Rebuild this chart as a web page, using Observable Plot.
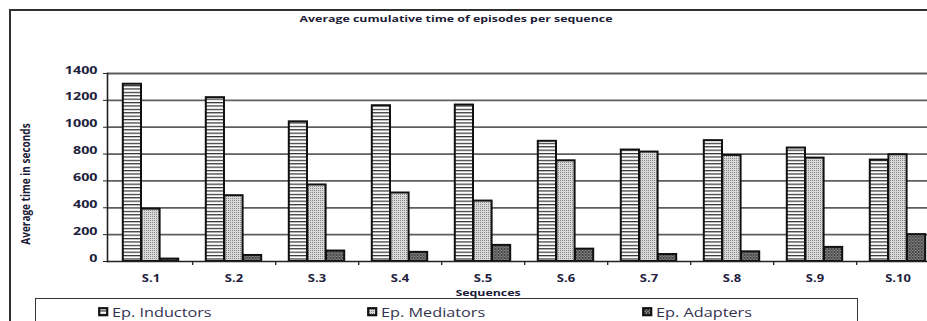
<!DOCTYPE html>
<html><head><meta charset="utf-8">
<script src="https://cdn.jsdelivr.net/npm/d3@7"></script>
<script src="https://cdn.jsdelivr.net/npm/@observablehq/plot@0.6"></script>
<style>
body{margin:0;background:#fff;}
#wrap{position:relative;width:927px;height:321px;overflow:hidden;font-family:"Open Sans",sans-serif;background:#fff;}
#wrap svg.plot{position:absolute;left:0;top:0;}
.abs{position:absolute;white-space:nowrap;line-height:1;}
#frameBox{position:absolute;left:9px;top:9px;width:1000px;height:400px;border-top:2.5px solid #303030;border-left:2.5px solid #303030;}
#legendBox{position:absolute;left:35px;top:298px;width:821px;height:40px;border:1.5px solid #333;}
</style></head><body><div id="wrap"><div id="frameBox"></div><div id="legendBox"></div></div>
<script>
const sequences = ["S.1","S.2","S.3","S.4","S.5","S.6","S.7","S.8","S.9","S.10"];
const inductors = [1320,1220,1040,1160,1165,895,830,900,845,755];
const mediators = [390,490,570,510,450,750,815,790,770,795];
const adapters  = [18,45,78,68,120,92,52,72,105,200];
const seriesNames = ["Ep. Inductors","Ep. Mediators","Ep. Adapters"];
const yTicks = [0,200,400,600,800,1000,1200,1400];
const titleText = "Average cumulative time of episodes per sequence";
const yLabelText = "Average time in seconds";
const xLabelText = "Sequences";

const W = 927, H = 321;
const bw = 83.4, barW = 18.6, inset = (bw - barW) / 2;
const patIds = ["pInd","pMed","pAda"];
const values = [inductors, mediators, adapters];
const data = sequences.flatMap((s, i) => values.map((v, k) => ({seq: s, series: k, value: v[i]})));

const barMark = k => Plot.barY(data.filter(d => d.series === k), {
  x: "seq", y: "value", fill: `url(#${patIds[k]})`, stroke: "#111", strokeWidth: 2,
  insetLeft: inset, insetRight: inset, dx: (k - 1) * barW
});

const textColor = "#20203c";
const svg = Plot.plot({
  width: W, height: H,
  marginLeft: 107, marginRight: 0, marginTop: 73, marginBottom: 60,
  x: {domain: sequences, range: [107, 107 + 10 * bw], padding: 0},
  y: {domain: [0, 1400]},
  style: {fontFamily: "'Open Sans', sans-serif", background: "transparent"},
  marks: [
    Plot.ruleY(yTicks.slice(1), {stroke: "#5e5e5e", strokeWidth: 1.8}),
    barMark(0), barMark(1), barMark(2),
    Plot.frame({anchor: "left", stroke: "#222", strokeWidth: 1.6}),
    Plot.frame({anchor: "bottom", stroke: "#222", strokeWidth: 1.6}),
    Plot.ruleX(sequences.slice(0, 9), {x: d => d, dx: bw / 2, y1: 0, y2: -30, stroke: "#222", strokeWidth: 1.3}),
    Plot.axisY({ticks: yTicks, tickFormat: d => String(d), tickSize: 4, tickPadding: 6, fontSize: 11, fontWeight: "bold", fill: textColor, stroke: "#222", label: null}),
    Plot.axisX({tickSize: 0, tickPadding: 20, fontSize: 10, fontWeight: "bold", fill: textColor, label: null})
  ]
});
svg.classList.add("plot");

// patterns
const defs = d3.select(svg).insert("defs", ":first-child");
const p0 = defs.append("pattern").attr("id", "pInd").attr("patternUnits", "userSpaceOnUse").attr("width", 6).attr("height", 3.4);
p0.append("rect").attr("width", 6).attr("height", 3.4).attr("fill", "#fff");
p0.append("rect").attr("width", 6).attr("height", 1.2).attr("fill", "#2e2e2e");
const p1 = defs.append("pattern").attr("id", "pMed").attr("patternUnits", "userSpaceOnUse").attr("width", 2).attr("height", 2);
p1.append("rect").attr("width", 2).attr("height", 2).attr("fill", "#d8d8d8");
p1.append("rect").attr("width", 1).attr("height", 1).attr("fill", "#8a8a8a");
const p2 = defs.append("pattern").attr("id", "pAda").attr("patternUnits", "userSpaceOnUse").attr("width", 3).attr("height", 3);
p2.append("rect").attr("width", 3).attr("height", 3).attr("fill", "#8a8a8a");
p2.append("path").attr("d", "M0,3L3,0M-1,1L1,-1M2,4L4,2M0,0L3,3").attr("stroke", "#333").attr("stroke-width", 0.8);

// horizontal stretch of text like the reference
d3.select(svg).selectAll("text").each(function() {
  const t = this.getAttribute("transform") || "";
  const x = +this.getAttribute("x") || 0, y = +this.getAttribute("y") || 0;
  this.removeAttribute("x"); this.removeAttribute("y");
  this.setAttribute("transform", `${t} translate(${x},${y}) scale(1.3,1)`);
});

const wrap = document.getElementById("wrap");
wrap.insertBefore(svg, wrap.firstChild);

function addText(txt, left, top, css, transform) {
  const el = document.createElement("div");
  el.className = "abs";
  el.textContent = txt;
  el.style.left = left + "px"; el.style.top = top + "px";
  Object.assign(el.style, css);
  el.style.transform = transform;
  wrap.appendChild(el);
  return el;
}
addText(titleText, 456, 19, {fontSize: "9.5px", fontWeight: "bold", color: "#1c1c36"}, "translate(-50%,-50%) scaleX(1.3)");
addText(yLabelText, 25, 184, {fontSize: "10px", fontWeight: "bold", color: "#1c1c36"}, "translate(-50%,-50%) scaleX(1.3) rotate(-90deg)");
addText(xLabelText, 488, 293, {fontSize: "9.5px", fontWeight: "bold", color: "#1c1c36"}, "translate(-50%,-50%) scaleX(1.3)");

// legend
const legendX = [99, 368, 643];
seriesNames.forEach((name, k) => {
  const sw = document.createElementNS("http://www.w3.org/2000/svg", "svg");
  sw.setAttribute("width", 12); sw.setAttribute("height", 11);
  sw.style.position = "absolute"; sw.style.left = (legendX[k] - 1) + "px"; sw.style.top = "307px";
  const r = document.createElementNS("http://www.w3.org/2000/svg", "rect");
  r.setAttribute("x", 1.2); r.setAttribute("y", 1.2); r.setAttribute("width", 8); r.setAttribute("height", 7);
  r.setAttribute("fill", `url(#${patIds[k]})`); r.setAttribute("stroke", "#111"); r.setAttribute("stroke-width", 2.2);
  sw.appendChild(r);
  wrap.appendChild(sw);
  addText(name, legendX[k] + 13, 313, {fontSize: "12.5px", color: "#33334f", transformOrigin: "0 50%"}, "translateY(-50%) scaleX(1.3)");
});
</script>
</body></html>
